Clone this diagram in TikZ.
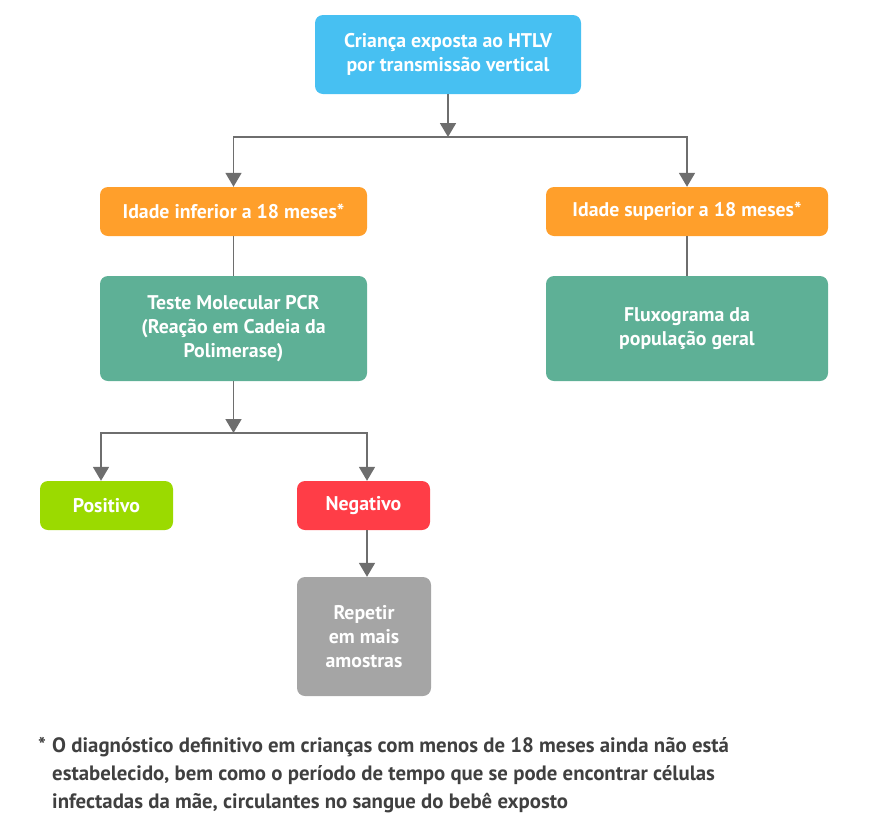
\documentclass[tikz,border=0pt]{standalone}
\usepackage{fontspec}
\setmainfont{PT Sans}
\usetikzlibrary{arrows.meta}

\definecolor{skyblue}{HTML}{47C0F2}
\definecolor{agegold}{HTML}{FF9F2B}
\definecolor{testgreen}{HTML}{5EB096}
\definecolor{posgreen}{HTML}{9BDA00}
\definecolor{negred}{HTML}{FF3D47}
\definecolor{repgrey}{HTML}{A5A5A5}
\definecolor{linegrey}{HTML}{6E6E6E}
\definecolor{notegrey}{HTML}{404040}

\begin{document}
\begin{tikzpicture}[x=1pt,y=-1pt,
    box/.style={rounded corners=8pt, inner sep=0pt, align=center, text=white,
      font=\fontsize{19.8}{24}\selectfont\bfseries},
    ln/.style={line width=1.8pt, draw=linegrey},
    arr/.style={ln, -{Triangle[width=16pt,length=14pt]}}]
  \useasboundingbox (0,0) rectangle (885,833);
  % boxes
  \node[box, fill=skyblue, minimum width=266pt, minimum height=79pt] (expo) at (448,54.5) {Criança exposta ao HTLV\\por transmissão vertical};
  \node[box, fill=agegold, minimum width=267pt, minimum height=49pt] (inf) at (233.5,211.5) {Idade inferior a 18 meses*};
  \node[box, fill=agegold, minimum width=282pt, minimum height=49pt] (sup) at (687,211.5) {Idade superior a 18 meses*};
  \node[box, fill=testgreen, minimum width=267pt, minimum height=105pt] (pcr) at (233.5,328.5) {Teste Molecular PCR\\(Reação em Cadeia da\\Polimerase)};
  \node[box, fill=testgreen, minimum width=282pt, minimum height=105pt] (fluxo) at (687,328.5) {Fluxograma da\\população geral};
  \node[box, fill=posgreen, minimum width=133pt, minimum height=49pt] (pos) at (106.5,505.5) {Positivo};
  \node[box, fill=negred, minimum width=133pt, minimum height=49pt] (neg) at (363.5,505.5) {Negativo};
  \node[box, fill=repgrey, minimum width=134pt, minimum height=119pt] (rep) at (364,636.5) {Repetir\\em mais\\amostras};
  % connectors
  \coordinate (j1) at (448,137);
  \coordinate (j2) at (233.5,433);
  \draw[arr] (expo) -- (j1);
  \draw[arr] (j1) -| (inf.north);
  \draw[arr] (j1) -| (sup.north);
  \draw[ln] (inf) -- (pcr);
  \draw[ln] (sup) -- (fluxo);
  \draw[arr] (pcr) -- (j2);
  \draw[arr] (j2) -| ([xshift=-5.5pt]pos.north);
  \draw[arr] (j2) -| ([xshift=3.5pt]neg.north);
  \draw[arr] ([xshift=3.5pt]neg.south) -- ([xshift=3.5pt]neg.south |- rep.north);
  % footnote
  \node[anchor=west, align=left, inner sep=0pt, text=notegrey,
    font=\fontsize{20.8}{28}\selectfont\bfseries] (nota) at (38,775)
    {\makebox[14pt][l]{*}O diagnóstico definitivo em crianças com menos de 18 meses ainda não está\\
     \hspace*{14pt}estabelecido, bem como o período de tempo que se pode encontrar células\\
     \hspace*{14pt}infectadas da mãe, circulantes no sangue do bebê exposto};
\end{tikzpicture}
\end{document}
